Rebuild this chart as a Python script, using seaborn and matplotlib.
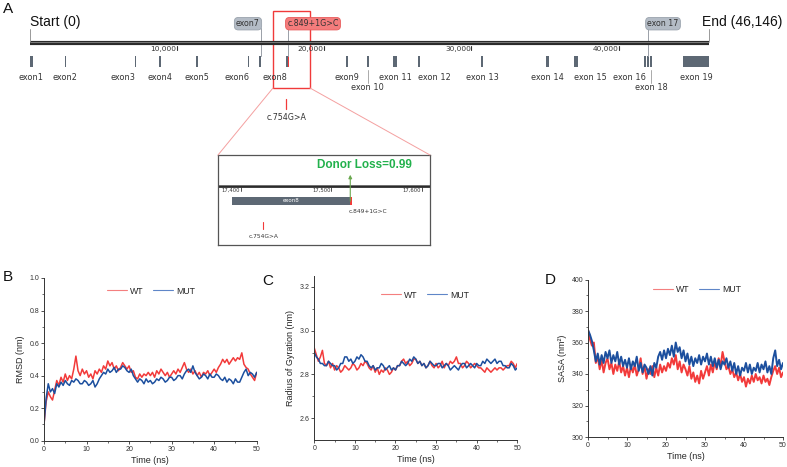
import matplotlib
matplotlib.use("Agg")
import matplotlib.pyplot as plt
from matplotlib.patches import Rectangle, ConnectionPatch
from matplotlib.lines import Line2D
import numpy as np
import pandas as pd
import seaborn as sns

# ---- gene structure (bp) ----
gene_len = 46146
exon_names = ["exon1", "exon2", "exon3", "exon4", "exon5", "exon6", "exon7", "exon8",
              "exon9", "exon 10", "exon 11", "exon 12", "exon 13", "exon 14", "exon 15",
              "exon 16", "exon 17", "exon 18", "exon 19"]
exon_start = [0, 2350, 7120, 8760, 11260, 14830, 15580, 17390, 21480, 22880, 24690,
              26390, 30650, 35090, 36990, 41700, 41930, 42140, 44400]
exon_end = [200, 2420, 7190, 8920, 11420, 14900, 15720, 17521, 21620, 23020, 24920,
            26530, 30810, 35250, 37220, 41840, 42070, 42270, 46146]
label_align = ["center", "center", "right", "center", "center", "right", None, "right",
               "center", "center", "center", "left", "center", "center", "left",
               "right", None, "center", "center"]
low_labels = ["exon 10", "exon 18"]
scale_ticks = [10000, 20000, 30000, 40000]
inset_ticks = [17400, 17500, 17600]
var_849 = 17521
var_754 = 17425
donor_loss = 0.99

# ---- MD trajectories, sampled every 0.5 ns ----
time_ns = np.arange(101) * 0.5
rmsd_wt = [0.10, 0.24, 0.30, 0.27, 0.25, 0.31, 0.37, 0.34, 0.39, 0.36,
           0.41, 0.37, 0.40, 0.38, 0.44, 0.52, 0.43, 0.40, 0.44, 0.41,
           0.43, 0.39, 0.41, 0.38, 0.43, 0.41, 0.44, 0.42, 0.46, 0.44,
           0.49, 0.46, 0.48, 0.44, 0.46, 0.43, 0.45, 0.48, 0.46, 0.44,
           0.46, 0.42, 0.43, 0.39, 0.38, 0.41, 0.39, 0.41, 0.40, 0.42,
           0.40, 0.42, 0.39, 0.43, 0.41, 0.44, 0.42, 0.40, 0.42, 0.39,
           0.41, 0.43, 0.41, 0.44, 0.42, 0.45, 0.48, 0.44, 0.42, 0.44,
           0.41, 0.43, 0.40, 0.42, 0.39, 0.42, 0.41, 0.43, 0.40, 0.42,
           0.44, 0.42, 0.45, 0.47, 0.50, 0.48, 0.50, 0.47, 0.49, 0.51,
           0.49, 0.51, 0.50, 0.54, 0.47, 0.45, 0.44, 0.41, 0.39, 0.37,
           0.42]
rmsd_mut = [0.10, 0.26, 0.35, 0.30, 0.32, 0.29, 0.35, 0.33, 0.36, 0.34,
            0.37, 0.35, 0.34, 0.37, 0.36, 0.38, 0.37, 0.35, 0.35, 0.37,
            0.36, 0.34, 0.35, 0.37, 0.33, 0.35, 0.38, 0.40, 0.42, 0.41,
            0.44, 0.42, 0.43, 0.45, 0.42, 0.44, 0.44, 0.46, 0.45, 0.43,
            0.42, 0.44, 0.40, 0.38, 0.36, 0.38, 0.37, 0.35, 0.38, 0.36,
            0.37, 0.35, 0.36, 0.38, 0.37, 0.39, 0.38, 0.36, 0.37, 0.39,
            0.39, 0.37, 0.38, 0.40, 0.40, 0.38, 0.41, 0.43, 0.44, 0.42,
            0.46, 0.42, 0.40, 0.38, 0.39, 0.41, 0.40, 0.38, 0.41, 0.39,
            0.39, 0.41, 0.40, 0.38, 0.37, 0.39, 0.36, 0.38, 0.37, 0.35,
            0.38, 0.36, 0.36, 0.39, 0.42, 0.44, 0.40, 0.42, 0.41, 0.39,
            0.42]
rg_wt = [2.92, 2.89, 2.86, 2.88, 2.91, 2.85, 2.84, 2.86, 2.83, 2.85,
         2.82, 2.84, 2.83, 2.81, 2.82, 2.84, 2.83, 2.82, 2.83, 2.85,
         2.84, 2.82, 2.83, 2.85, 2.84, 2.86, 2.85, 2.83, 2.82, 2.84,
         2.81, 2.83, 2.80, 2.82, 2.81, 2.83, 2.82, 2.80, 2.81, 2.83,
         2.82, 2.84, 2.84, 2.86, 2.87, 2.85, 2.86, 2.84, 2.85, 2.87,
         2.87, 2.85, 2.86, 2.84, 2.85, 2.83, 2.84, 2.86, 2.84, 2.83,
         2.85, 2.83, 2.84, 2.86, 2.83, 2.85, 2.84, 2.86, 2.85, 2.86,
         2.88, 2.85, 2.85, 2.83, 2.84, 2.86, 2.85, 2.83, 2.84, 2.85,
         2.84, 2.83, 2.83, 2.82, 2.81, 2.83, 2.82, 2.81, 2.82, 2.83,
         2.82, 2.83, 2.83, 2.82, 2.83, 2.84, 2.84, 2.86, 2.85, 2.83,
         2.85]
rg_mut = [2.90, 2.88, 2.87, 2.85, 2.85, 2.84, 2.84, 2.86, 2.85, 2.84,
          2.84, 2.82, 2.83, 2.85, 2.85, 2.88, 2.88, 2.86, 2.87, 2.85,
          2.86, 2.88, 2.87, 2.89, 2.88, 2.86, 2.86, 2.84, 2.83, 2.84,
          2.82, 2.83, 2.83, 2.85, 2.84, 2.82, 2.83, 2.84, 2.82, 2.83,
          2.82, 2.84, 2.84, 2.86, 2.85, 2.84, 2.85, 2.87, 2.86, 2.88,
          2.87, 2.85, 2.86, 2.84, 2.85, 2.83, 2.84, 2.86, 2.85, 2.84,
          2.84, 2.85, 2.85, 2.83, 2.84, 2.85, 2.84, 2.82, 2.83, 2.84,
          2.83, 2.82, 2.84, 2.85, 2.85, 2.83, 2.84, 2.85, 2.84, 2.83,
          2.85, 2.84, 2.84, 2.86, 2.85, 2.87, 2.86, 2.85, 2.86, 2.87,
          2.85, 2.86, 2.86, 2.84, 2.84, 2.83, 2.83, 2.85, 2.84, 2.82,
          2.83]
sasa_wt = [368, 362, 358, 360, 347, 351, 343, 349, 341, 347,
           350, 343, 347, 340, 346, 342, 348, 341, 345, 339,
           344, 338, 345, 341, 346, 339, 343, 350, 340, 345,
           337, 343, 340, 345, 338, 344, 339, 346, 341, 345,
           342, 347, 344, 350, 346, 352, 343, 348, 341, 346,
           343, 339, 345, 337, 341, 335, 339, 334, 342, 337,
           341, 345, 339, 346, 341, 348, 343, 350, 345, 354,
           348, 343, 345, 340, 343, 338, 341, 336, 340, 335,
           338, 332, 337, 334, 339, 335, 340, 336, 338, 334,
           339, 335, 337, 333, 338, 342, 345, 340, 344, 338,
           341]
sasa_mut = [368, 365, 361, 355, 348, 353, 346, 352, 347, 354,
            350, 355, 347, 352, 348, 354, 346, 351, 345, 349,
            344, 350, 343, 348, 345, 351, 342, 347, 341, 346,
            344, 340, 345, 339, 347, 344, 351, 354, 349, 355,
            350, 356, 352, 358, 351, 360, 354, 357, 350, 355,
            348, 353, 346, 351, 345, 350, 347, 352, 346, 351,
            348, 353, 346, 351, 345, 350, 344, 349, 343, 348,
            346, 350, 344, 348, 342, 347, 340, 345, 339, 344,
            342, 347, 341, 346, 340, 344, 342, 347, 341, 346,
            343, 348, 341, 345, 340, 350, 355, 345, 349, 343,
            347]

sns.set_theme(style="ticks")
plt.rcParams['font.family'] = ['Liberation Sans', 'DejaVu Sans']

W, H = 787, 467
fig = plt.figure(figsize=(W / 100, H / 100), dpi=100)


def box(l, t, r, b):
    return [l / W, 1 - b / H, (r - l) / W, (b - t) / H]


RED = "#f23a3a"
BLUE = "#1c4f9e"
EXON = "#5d6874"
VF = "DejaVu Sans"

# ---------------- panel A: gene map ----------------
bpp = gene_len / 679.0
ax = fig.add_axes(box(0, 0, W, 270))
ax.set_xlim(-30 * bpp, (W - 30) * bpp)
ax.set_ylim(270, 0)
ax.axis("off")

ax.plot([0, gene_len], [43, 43], color="#2b2b2b", lw=3.0, solid_capstyle="butt")
ax.plot([0, gene_len], [41.9, 41.9], color="#9a9a9a", lw=0.5)
for t in scale_ticks:
    ax.plot([t, t], [45.5, 49.5], color="#333333", lw=0.8)
    ax.text(t - 0.5 * bpp, 49, f"{t:,}", ha="right", va="center", fontsize=5.3,
            family=VF, color="#333333")

ax.plot([0, 0], [29, 41], color="#999999", lw=0.7)
ax.plot([gene_len, gene_len], [29, 41], color="#999999", lw=0.7)
ax.text(0, 22, "Start (0)", ha="left", va="center", fontsize=10, color="#111111")
ax.text(gene_len - 7 * bpp, 22, f"End ({gene_len:,})", ha="left", va="center",
        fontsize=10, color="#111111")

widths = [max(e - s, 60) for s, e in zip(exon_start, exon_end)]
ax.bar(exon_start, 11, width=widths, bottom=56, align="edge", color=EXON,
       edgecolor="none")
ax.bar(var_849, 11, width=60, bottom=56, align="edge", color=RED, edgecolor="none")

for name, s, e, al in zip(exon_names, exon_start, exon_end, label_align):
    if al is None:
        continue
    mid = (s + e) / 2
    if name in low_labels:
        ax.plot([mid, mid], [70, 83], color="#aaaaaa", lw=0.7)
        ax.text(mid, 88, name, ha="center", va="center", fontsize=5.9, family=VF,
                color="#333333")
        continue
    x = {"center": mid, "right": e, "left": s}[al]
    ax.text(x, 77, name, ha=al, va="center", fontsize=5.9, family=VF, color="#333333")

# callouts above the line
callouts = [("exon7", exon_end[6] - 30, 14815, "#b4bcc6", "#9aa3ad"),
            ("c.849+1G>C", var_849, 19233, "#f47c7c", "#e85c5c"),
            ("exon 17", (exon_start[16] + exon_end[16]) / 2, 43020, "#b4bcc6", "#9aa3ad")]
for txt, xline, xtxt, fc, ec in callouts:
    ax.plot([xline, xline], [28, 56], color="#9aa0a8", lw=0.7, zorder=1)
    ax.text(xtxt, 23.7, txt, ha="center", va="center", fontsize=5.7, family=VF,
            color="#333333", zorder=3,
            bbox=dict(boxstyle="round,pad=0.22,rounding_size=0.5", fc=fc, ec=ec, lw=0.6))

zoom_l, zoom_r = 16515, 19029
ax.add_patch(Rectangle((zoom_l, 11), zoom_r - zoom_l, 77, fill=False, ec="#f03a3a", lw=1.0))
ax.plot([var_754, var_754], [99, 109], color=RED, lw=0.9)
ax.text(var_754, 118, "c.754G>A", ha="center", va="center", fontsize=5.7, family=VF,
        color="#333333")

# ---------------- inset ----------------
ins = fig.add_axes(box(218, 155, 430, 245))
ins.set_xlim(17375, 17609)
ins.set_ylim(245, 155)
ins.set_xticks([])
ins.set_yticks([])
for sp in ins.spines.values():
    sp.set_color("#555555")
    sp.set_linewidth(0.9)
ins.plot([17375, 17609], [186, 186], color="#2b2b2b", lw=2.0, solid_capstyle="butt")
ins.plot([17375, 17609], [185.2, 185.2], color="#9a9a9a", lw=0.4)
for t in inset_ticks:
    ins.plot([t, t], [187.5, 191], color="#333333", lw=0.6)
    ins.text(t - 0.5, 190.5, f"{t:,}", ha="right", va="center", fontsize=3.8,
             family=VF, color="#333333")
ins.bar(exon_start[7], 8, width=exon_end[7] - exon_start[7], bottom=197, align="edge",
        color=EXON, edgecolor="none")
ins.bar(var_849, 8, width=1.5, bottom=197, align="edge", color=RED, edgecolor="none")
ins.text((exon_start[7] + exon_end[7]) / 2, 201, "exon8", ha="center", va="center",
         fontsize=4, family=VF, color="white")
ins.annotate("", xy=(var_849, 172), xytext=(var_849, 204),
             arrowprops=dict(arrowstyle="-|>", color="#6aa84f", lw=0.8, mutation_scale=5))
ins.text(var_849 + 16, 165, f"Donor Loss={donor_loss}", ha="center", va="center",
         fontsize=8.5, fontweight="bold", color="#22b14c")
ins.text(var_849 - 2, 212, "c.849+1G>C", ha="left", va="center", fontsize=4.2,
         family=VF, color="#333333")
ins.plot([var_754, var_754], [222, 229], color=RED, lw=0.8)
ins.text(var_754, 237, "c.754G>A", ha="center", va="center", fontsize=4.2,
         family=VF, color="#333333")

for xa, xb in [(zoom_l, 0), (zoom_r, 1)]:
    con = ConnectionPatch(xyA=(xa, 88), coordsA=ax.transData, xyB=(xb, 1),
                          coordsB=ins.transAxes, color="#f4a0a0", lw=0.7)
    fig.add_artist(con)

# ---------------- panels B-D ----------------
def md_panel(rect, wt, mut, ylim, major, minor, ylabel, leg_xy, lw):
    a = fig.add_axes(box(*rect))
    df = pd.DataFrame({"Time": np.r_[time_ns, time_ns], "value": wt + mut,
                       "group": ["WT"] * len(wt) + ["MUT"] * len(mut)})
    sns.lineplot(data=df, x="Time", y="value", hue="group", hue_order=["WT", "MUT"],
                 palette={"WT": RED, "MUT": BLUE}, lw=lw, ax=a, legend=False)
    a.set_xlim(0, 50)
    a.set_ylim(*ylim)
    a.set_xticks(np.arange(0, 51, 10))
    a.set_xticks(np.arange(5, 50, 10), minor=True)
    a.set_yticks(major)
    a.set_yticks(minor, minor=True)
    a.tick_params(which="major", labelsize=5, length=2, width=0.6, pad=1.5,
                  colors="#333333")
    a.tick_params(which="minor", length=1.2, width=0.5, colors="#333333")
    sns.despine(ax=a)
    for sp in a.spines.values():
        sp.set_linewidth(0.7)
        sp.set_color("#333333")
    a.set_xlabel("Time (ns)", fontsize=6.5, labelpad=2.5)
    a.set_ylabel(ylabel, fontsize=6.5, labelpad=3)
    handles = [Line2D([], [], color="#f47f7f", lw=0.8), Line2D([], [], color="#5f86c8", lw=0.8)]
    a.legend(handles, ["WT", "MUT"], ncol=2, frameon=False, fontsize=6.3, loc="center",
             bbox_to_anchor=(leg_xy[0] / W, 1 - leg_xy[1] / H),
             bbox_transform=fig.transFigure, handlelength=2.3, handletextpad=0.3,
             columnspacing=1.1, borderpad=0)
    return a


md_panel((44, 278, 256.7, 440.7), rmsd_wt, rmsd_mut, (0, 1.0),
         [0.0, 0.2, 0.4, 0.6, 0.8, 1.0], [0.1, 0.3, 0.5, 0.7, 0.9], "RMSD (nm)", (151, 291), 1.1)
a_c = md_panel((314.3, 276, 517.3, 440), rg_wt, rg_mut, (2.5, 3.25),
               [2.6, 2.8, 3.0, 3.2], [2.7, 2.9, 3.1], "Radius of Gyration (nm)", (425, 295), 1.1)
a_c.yaxis.set_major_formatter(matplotlib.ticker.FormatStrFormatter("%.1f"))
md_panel((588, 279.5, 783, 437), sasa_wt, sasa_mut, (300, 400),
         [300, 320, 340, 360, 380, 400], [310, 330, 350, 370, 390], "SASA (nm²)", (697, 290), 1.4)

for letter, x, y in [("A", 3, 9), ("B", 3, 277), ("C", 262, 281), ("D", 545, 280)]:
    fig.text(x / W, 1 - y / H, letter, ha="left", va="center", fontsize=11, color="#111111")

fig.savefig("out.png", dpi=100)
